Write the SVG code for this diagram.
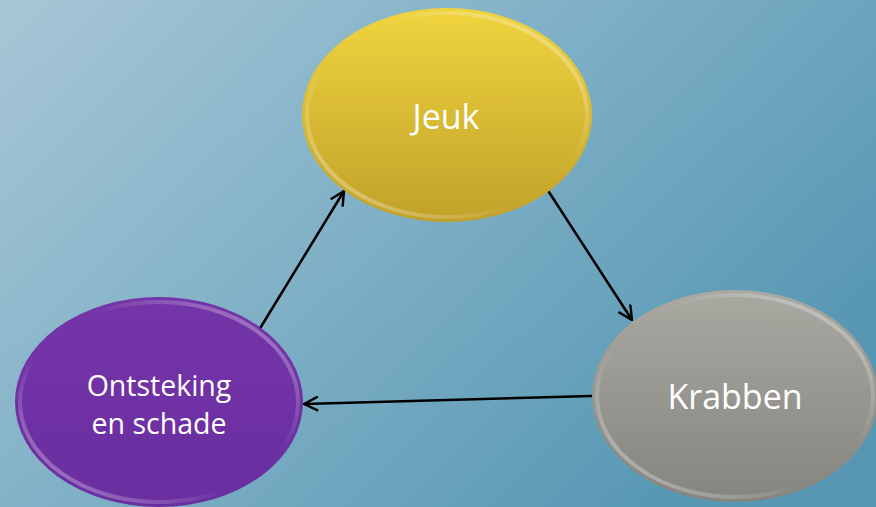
<svg xmlns="http://www.w3.org/2000/svg" width="876" height="507" viewBox="0 0 876 507">
<defs>
<linearGradient id="bg" x1="0" y1="0" x2="1" y2="0.6">
<stop offset="0" stop-color="#a8c6d6"/>
<stop offset="0.5" stop-color="#7fb0c6"/>
<stop offset="1" stop-color="#5797b3"/>
</linearGradient>
<linearGradient id="gy" x1="0" y1="0" x2="0" y2="1">
<stop offset="0" stop-color="#f0d43e"/>
<stop offset="1" stop-color="#c2a12a"/>
</linearGradient>
<linearGradient id="gg" x1="0" y1="0" x2="0" y2="1">
<stop offset="0" stop-color="#a9a8a1"/>
<stop offset="1" stop-color="#858580"/>
</linearGradient>
<linearGradient id="gp" x1="0" y1="0" x2="0" y2="1">
<stop offset="0" stop-color="#7435a8"/>
<stop offset="1" stop-color="#6a2ea0"/>
</linearGradient>
<linearGradient id="rimg" x1="0" y1="1" x2="1" y2="0">
<stop offset="0" stop-color="#fff" stop-opacity="0.45"/>
<stop offset="0.4" stop-color="#fff" stop-opacity="0"/>
<stop offset="0.6" stop-color="#fff" stop-opacity="0"/>
<stop offset="1" stop-color="#fff" stop-opacity="0.45"/>
</linearGradient>
<marker id="ah" viewBox="0 0 16 16" refX="15" refY="8" markerWidth="16" markerHeight="16" markerUnits="userSpaceOnUse" orient="auto">
<path d="M1,1 L15,8 L1,15" fill="none" stroke="#000" stroke-width="2.4"/>
</marker>
<style>
.t{font-family:"Open Sans","Liberation Sans",sans-serif;fill:#fff;text-anchor:middle}
.c{stroke:#000;stroke-width:2.5;fill:none;marker-end:url(#ah)}
.rim{fill:none;stroke-width:4;stroke:url(#rimg)}
</style>
</defs>
<rect width="876" height="507" fill="url(#bg)"/>
<g id="connectors">
<line class="c" x1="259" y1="330" x2="344" y2="191"/>
<line class="c" x1="547" y1="189" x2="632" y2="320"/>
<line class="c" x1="592" y1="396" x2="304" y2="404"/>
</g>
<g id="jeuk">
<ellipse cx="447" cy="115" rx="145" ry="107" fill="url(#gy)"/>
<ellipse class="rim" cx="447" cy="115" rx="140" ry="102"/>
<text class="t" x="446" y="129" font-size="34">Jeuk</text>
</g>
<g id="krabben">
<ellipse cx="735" cy="396" rx="143" ry="106" fill="url(#gg)"/>
<ellipse class="rim" cx="735" cy="396" rx="138" ry="101"/>
<text class="t" x="735" y="409" font-size="34">Krabben</text>
</g>
<g id="ontsteking">
<ellipse cx="159" cy="402" rx="144" ry="105" fill="url(#gp)"/>
<ellipse class="rim" cx="159" cy="402" rx="139" ry="100"/>
<text class="t" x="159" y="396" font-size="28.5">Ontsteking</text>
<text class="t" x="159" y="434" font-size="28.5">en schade</text>
</g>
</svg>
